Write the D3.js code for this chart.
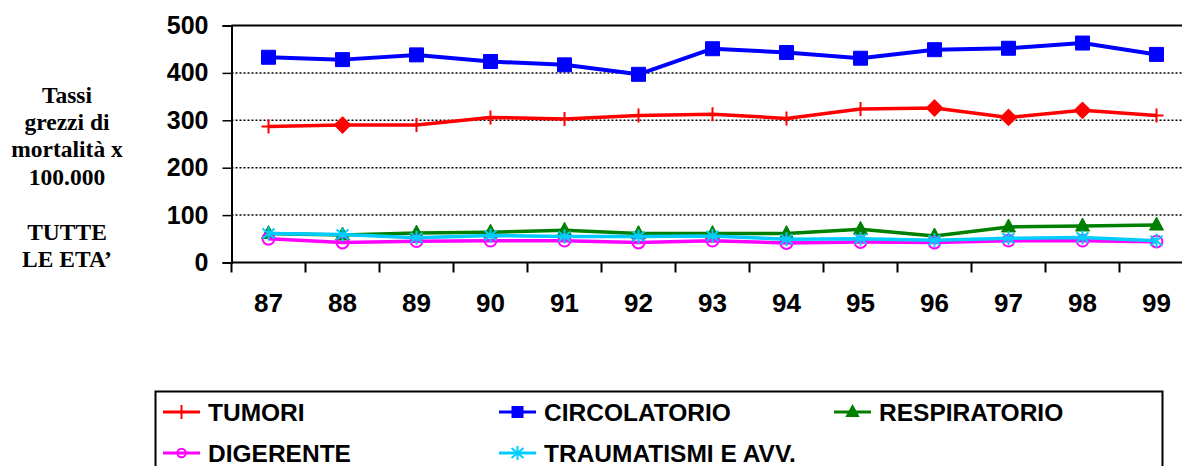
<!DOCTYPE html>
<html>
<head>
<meta charset="utf-8">
<script src="https://cdn.jsdelivr.net/npm/d3@7"></script>
<style>
  body { margin: 0; background: #fff; }
  svg { display: block; }
  .tick text { font-family: "Liberation Sans", Arial, sans-serif; font-weight: bold; }
</style>
</head>
<body>
<div id="chart"></div>
<script>
// years on the category axis
var years = ["87", "88", "89", "90", "91", "92", "93", "94", "95", "96", "97", "98", "99"];
var yTicks = [0, 100, 200, 300, 400, 500];

// crude death rates per 100.000, all ages
var tumori       = [287, 290, 290, 306, 303, 310, 313, 304, 324, 326, 306, 321, 310];
var circolatorio = [433, 428, 438, 424, 417, 397, 451, 443, 431, 449, 452, 463, 439];
var respiratorio = [61, 58, 62, 64, 68, 61, 61, 61, 70, 56, 75, 77, 79];
var digerente    = [50, 42, 45, 46, 46, 42, 46, 41, 43, 42, 46, 46, 44];
var traumatismi  = [61, 59, 52, 57, 55, 55, 56, 49, 50, 47, 51, 53, 46];

// points of TUMORI that are drawn as diamonds in the original
var tumoriDiamonds = [1, 9, 10, 11];

var titleLines = ["Tassi", "grezzi di", "mortalità x", "100.000", "", "TUTTE", "LE ETA\u2019"];

var width = 1182, height = 466;

var svg = d3.select("#chart").append("svg")
    .attr("width", width)
    .attr("height", height);

var x = d3.scaleBand()
    .domain(years)
    .range([231.5, 231.5 + 74 * years.length]);

var y = d3.scaleLinear()
    .domain([0, 500])
    .range([262.5, 25.5]);

// marker shapes
var shapes = {
  plus: "M-7,0H7M0,-7V7",
  square: "M-7,-7H7V7H-7Z",
  diamond: "M0,-7.5L7.5,0L0,7.5L-7.5,0Z",
  triangle: "M0,-8L7,5H-7Z",
  circle: d3.symbol(d3.symbolCircle, 110)(),
  star: "M0,-7V7M-6,-5L6,5M-6,5L6,-5"
};
var legendShapes = {
  plus: "M0,-7V7",
  square: "M-5,-5H5V5H-5Z",
  triangle: "M0,-6L5.5,4H-5.5Z",
  circle: d3.symbol(d3.symbolCircle, 55)(),
  star: "M0,-7V7M-6,-5L6,5M-6,5L6,-5"
};

var series = [
  { name: "TUMORI", values: tumori, color: "#ff0000", width: 3.5, shape: "plus", filled: false },
  { name: "CIRCOLATORIO", values: circolatorio, color: "#0000ff", width: 4, shape: "square", filled: true },
  { name: "RESPIRATORIO", values: respiratorio, color: "#008000", width: 3.5, shape: "triangle", filled: true },
  { name: "DIGERENTE", values: digerente, color: "#ff00ff", width: 3.5, shape: "circle", filled: false },
  { name: "TRAUMATISMI E AVV.", values: traumatismi, color: "#00ccff", width: 3.5, shape: "star", filled: false }
];

/* gridlines */
svg.append("g")
    .selectAll("line")
    .data(yTicks.filter(function (d) { return d > 0; }))
    .join("line")
    .attr("x1", 231.5)
    .attr("x2", width)
    .attr("y1", function (d) { return y(d); })
    .attr("y2", function (d) { return y(d); })
    .attr("stroke", "#000")
    .attr("stroke-width", function (d) { return d === 500 ? 2 : 1.5; })
    .attr("stroke-dasharray", function (d) { return d === 500 ? null : "2,2"; });

/* y axis */
var yAxis = svg.append("g")
    .attr("transform", "translate(231.5,0)")
    .call(d3.axisLeft(y).tickValues(yTicks).tickSize(9).tickPadding(14));
yAxis.select(".domain").attr("stroke", "#000").attr("stroke-width", 2);
yAxis.selectAll(".tick line").attr("stroke-width", 1.5);
yAxis.selectAll(".tick text").attr("font-size", 25).attr("fill", "#000");

/* x axis: line, ticks at band edges, labels centred */
svg.append("line")
    .attr("x1", 231.5).attr("x2", width)
    .attr("y1", y(0)).attr("y2", y(0))
    .attr("stroke", "#000").attr("stroke-width", 2);

svg.append("g")
    .selectAll("line")
    .data(years)
    .join("line")
    .attr("x1", function (d) { return x(d); })
    .attr("x2", function (d) { return x(d); })
    .attr("y1", y(0))
    .attr("y2", y(0) + 10)
    .attr("stroke", "#000")
    .attr("stroke-width", 2);

svg.append("g")
    .selectAll("text")
    .data(years)
    .join("text")
    .text(function (d) { return d; })
    .attr("x", function (d) { return x(d) + x.bandwidth() / 2; })
    .attr("y", 311.5)
    .attr("text-anchor", "middle")
    .attr("font-family", "Liberation Sans, Arial, sans-serif")
    .attr("font-weight", "bold")
    .attr("font-size", 26);

/* axis title on the left */
svg.append("g")
    .selectAll("text")
    .data(titleLines)
    .join("text")
    .text(function (d) { return d; })
    .attr("x", 67)
    .attr("y", function (d, i) { return 102.5 + i * 27.4; })
    .attr("text-anchor", "middle")
    .attr("font-family", "Liberation Serif, Times New Roman, serif")
    .attr("font-weight", "bold")
    .attr("font-size", 23.5);

/* series */
var line = d3.line()
    .x(function (d, i) { return x(years[i]) + x.bandwidth() / 2; })
    .y(function (d) { return y(d); });

var plot = svg.append("g");

series.forEach(function (s) {
  var g = plot.append("g");
  g.append("path")
      .datum(s.values)
      .attr("d", line)
      .attr("fill", "none")
      .attr("stroke", s.color)
      .attr("stroke-width", s.width)
      .attr("stroke-linejoin", "round");

  g.selectAll("path.mark")
      .data(s.values)
      .join("path")
      .attr("class", "mark")
      .attr("transform", function (d, i) {
        return "translate(" + (x(years[i]) + x.bandwidth() / 2) + "," + y(d) + ")";
      })
      .attr("d", function (d, i) {
        if (s.name === "TUMORI" && tumoriDiamonds.indexOf(i) >= 0) return shapes.diamond;
        return shapes[s.shape];
      })
      .attr("fill", function (d, i) {
        if (s.name === "TUMORI" && tumoriDiamonds.indexOf(i) >= 0) return s.color;
        return s.filled ? s.color : "none";
      })
      .attr("stroke", s.color)
      .attr("stroke-width", s.shape === "square" || s.shape === "triangle" ? 1 : 2);
});

/* legend */
var legend = svg.append("g");
legend.append("rect")
    .attr("x", 155.5)
    .attr("y", 391.5)
    .attr("width", 1007)
    .attr("height", 120)
    .attr("fill", "none")
    .attr("stroke", "#000")
    .attr("stroke-width", 2);

var legendCols = [163, 499, 834];
var legendRows = [412, 453];

var item = legend.selectAll("g.item")
    .data(series)
    .join("g")
    .attr("class", "item")
    .attr("transform", function (d, i) {
      return "translate(" + legendCols[i % 3] + "," + legendRows[Math.floor(i / 3)] + ")";
    });

item.append("line")
    .attr("x1", 0).attr("x2", 37)
    .attr("stroke", function (d) { return d.color; })
    .attr("stroke-width", 3);

item.append("path")
    .attr("transform", "translate(18.5,0)")
    .attr("d", function (d) { return legendShapes[d.shape]; })
    .attr("fill", function (d) { return d.filled ? d.color : "none"; })
    .attr("stroke", function (d) { return d.color; })
    .attr("stroke-width", 2);

item.append("text")
    .text(function (d) { return d.name; })
    .attr("x", 45)
    .attr("y", 9)
    .attr("font-family", "Liberation Sans, Arial, sans-serif")
    .attr("font-weight", "bold")
    .attr("font-size", 24.5);
</script>
</body>
</html>
